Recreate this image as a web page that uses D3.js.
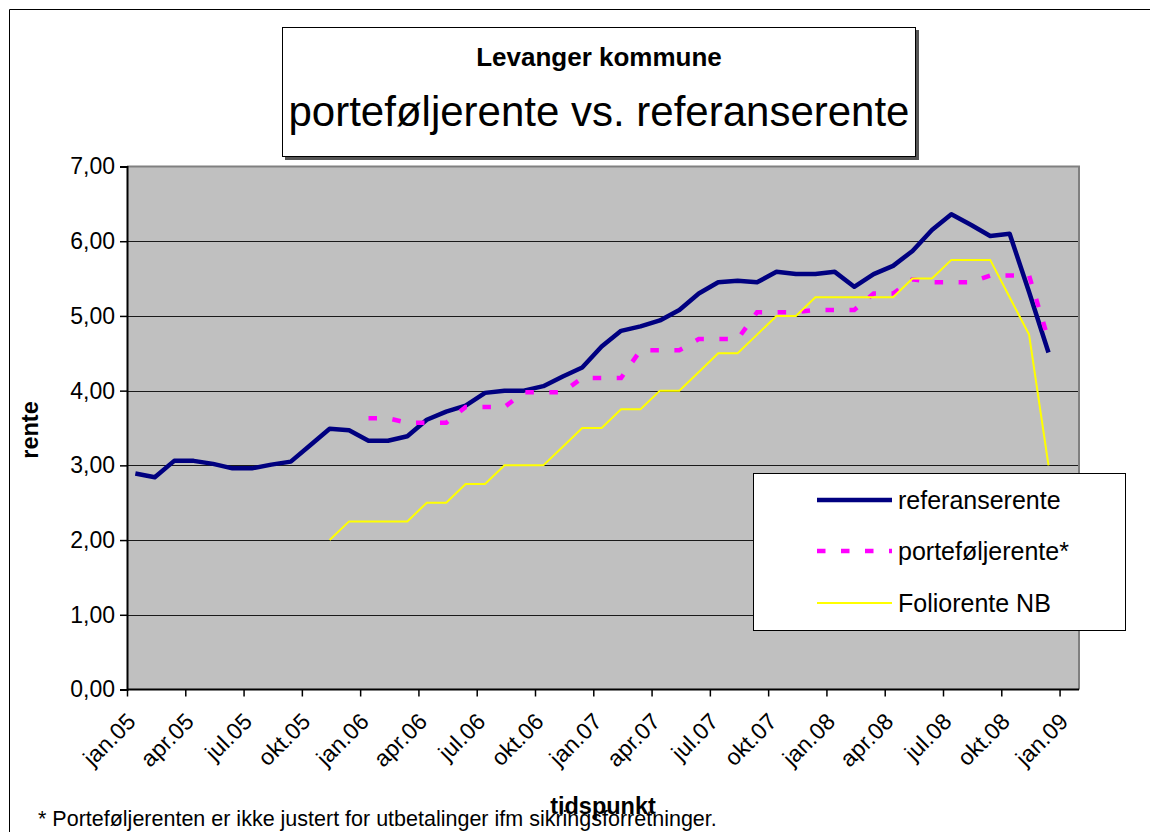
<!DOCTYPE html>
<html><head><meta charset="utf-8">
<script src="https://cdn.jsdelivr.net/npm/d3@7/dist/d3.min.js"></script>
<style>
body{margin:0;background:#fff}
svg{display:block}
text{font-family:"Liberation Sans",Arial,sans-serif;fill:#000}
</style>
</head><body>
<svg id="chart" width="1157" height="832"></svg>
<script>
const months = ["jan.05","feb.05","mar.05","apr.05","mai.05","jun.05","jul.05","aug.05","sep.05","okt.05","nov.05","des.05",
"jan.06","feb.06","mar.06","apr.06","mai.06","jun.06","jul.06","aug.06","sep.06","okt.06","nov.06","des.06",
"jan.07","feb.07","mar.07","apr.07","mai.07","jun.07","jul.07","aug.07","sep.07","okt.07","nov.07","des.07",
"jan.08","feb.08","mar.08","apr.08","mai.08","jun.08","jul.08","aug.08","sep.08","okt.08","nov.08","des.08"];
const tickLabels = ["jan.05","apr.05","jul.05","okt.05","jan.06","apr.06","jul.06","okt.06","jan.07","apr.07","jul.07","okt.07","jan.08","apr.08","jul.08","okt.08","jan.09"];
const yTicks = [0,1,2,3,4,5,6,7];
const referanserente = [2.89,2.84,3.06,3.06,3.02,2.96,2.96,3.01,3.05,3.27,3.49,3.47,
3.33,3.33,3.39,3.61,3.72,3.80,3.97,4.00,4.00,4.06,4.19,4.31,
4.59,4.80,4.86,4.94,5.08,5.30,5.45,5.47,5.45,5.59,5.56,5.56,
5.59,5.39,5.56,5.67,5.87,6.15,6.36,6.22,6.07,6.10,5.32,4.51];
const portefoljerente = [null,null,null,null,null,null,null,null,null,null,null,null,
3.63,3.63,3.57,3.57,3.57,3.78,3.78,3.78,3.98,3.98,3.98,4.17,
4.17,4.17,4.54,4.54,4.54,4.69,4.69,4.69,5.05,5.05,5.05,5.08,
5.08,5.08,5.30,5.30,5.49,5.45,5.45,5.45,5.54,5.54,5.54,4.68];
const foliorente = [null,null,null,null,null,null,null,null,null,null,2.00,2.25,
2.25,2.25,2.25,2.50,2.50,2.75,2.75,3.00,3.00,3.00,3.25,3.50,
3.50,3.75,3.75,4.00,4.00,4.25,4.50,4.50,4.75,5.00,5.00,5.25,
5.25,5.25,5.25,5.25,5.50,5.50,5.75,5.75,5.75,5.25,4.75,3.00];
const seriesNames = ["referanserente","porteføljerente*","Foliorente NB"];

const svg = d3.select("#chart");
const L = 127, R = 1079, T = 166.5, B = 689.5;
const x = d3.scaleLinear().domain([0, 49]).range([L, R]);
const y = d3.scaleLinear().domain([0, 7]).range([B, T]);
const off = 0.43;

// outer frame
svg.append("path").attr("d", "M9.5,832 V9.5 H1150").attr("fill","none").attr("stroke","#000").attr("stroke-width",1);

// title box
svg.append("rect").attr("x",285).attr("y",30).attr("width",634).attr("height",130).attr("fill","#555");
svg.append("rect").attr("x",282.5).attr("y",27.5).attr("width",633).attr("height",129).attr("fill","#fff").attr("stroke","#000").attr("stroke-width",1);
svg.append("text").attr("x",599).attr("y",66).attr("text-anchor","middle").attr("font-size",26).attr("font-weight","bold").text("Levanger kommune");
svg.append("text").attr("x",599).attr("y",126).attr("text-anchor","middle").attr("font-size",42).text("porteføljerente vs. referanserente");

// plot area
svg.append("rect").attr("x",L).attr("y",T).attr("width",R-L).attr("height",B-T).attr("fill","#C0C0C0");
// gridlines
svg.append("g").selectAll("line").data(yTicks.filter(v => v>0 && v<7)).join("line")
  .attr("x1",L).attr("x2",R).attr("y1",d=>Math.round(y(d))+0.5).attr("y2",d=>Math.round(y(d))+0.5)
  .attr("stroke","#1a1a1a").attr("stroke-width",1.2);
// plot border top/right
svg.append("path").attr("d",`M${L},${T} H${R} V${B}`).attr("fill","none").attr("stroke","#808080").attr("stroke-width",2);

// series
const line = d3.line().defined(d => d.v != null).x(d => x(d.i + off)).y(d => y(d.v));
const toPts = arr => arr.map((v,i) => ({i, v}));
svg.append("path").datum(toPts(referanserente)).attr("d", line).attr("fill","none")
  .attr("stroke","#000080").attr("stroke-width",4.5).attr("stroke-linejoin","round");
svg.append("path").datum(toPts(portefoljerente)).attr("d", line).attr("fill","none")
  .attr("stroke","#FF00FF").attr("stroke-width",4.5).attr("stroke-dasharray","8.5,15.5");
svg.append("path").datum(toPts(foliorente)).attr("d", line).attr("fill","none")
  .attr("stroke","#FFFF00").attr("stroke-width",2);

// axes
const yAxis = svg.append("g").attr("transform",`translate(${L},0)`)
  .call(d3.axisLeft(y).tickValues(yTicks).tickSize(7).tickFormat(d => d3.format(".2f")(d).replace(".",",")));
yAxis.select(".domain").attr("stroke","#000").attr("stroke-width",2);
yAxis.selectAll(".tick line").attr("stroke","#000").attr("stroke-width",1.5);
yAxis.selectAll(".tick text").attr("font-size",23).attr("font-family","Liberation Sans, Arial, sans-serif").attr("x",-12).attr("fill","#000");

const xAxis = svg.append("g").attr("transform",`translate(0,${B})`)
  .call(d3.axisBottom(x).tickValues(tickLabels.map((_,k)=>3*k)).tickSize(7).tickFormat((d,k)=>tickLabels[k]));
xAxis.select(".domain").attr("stroke","#000").attr("stroke-width",2).attr("d",`M${L},0H${R}`);
xAxis.selectAll(".tick line").attr("stroke","#000").attr("stroke-width",1.5);
xAxis.selectAll(".tick text").attr("font-size",23).attr("font-family","Liberation Sans, Arial, sans-serif")
  .attr("fill","#000").attr("text-anchor","end").attr("y",0).attr("dy","0.71em")
  .attr("transform","translate(-2,22) rotate(-45)");

// axis titles
svg.append("text").attr("transform","translate(38,430) rotate(-90)").attr("text-anchor","middle")
  .attr("font-size",23.5).attr("font-weight","bold").text("rente");
svg.append("text").attr("x",603).attr("y",814).attr("text-anchor","middle")
  .attr("font-size",23.5).attr("font-weight","bold").text("tidspunkt");

// footnote
svg.append("text").attr("x",38).attr("y",826).attr("font-size",21.5)
  .text("* Porteføljerenten er ikke justert for utbetalinger ifm sikringsforretninger.");

// legend
const lg = svg.append("g");
lg.append("rect").attr("x",753.5).attr("y",473.5).attr("width",372).attr("height",157).attr("fill","#fff").attr("stroke","#000").attr("stroke-width",1);
const lgY = [500, 551, 603];
const styles = [
  {stroke:"#000080", w:4.5, dash:null},
  {stroke:"#FF00FF", w:4.5, dash:"8.5,15.5"},
  {stroke:"#FFFF00", w:2, dash:null}
];
seriesNames.forEach((n,k) => {
  lg.append("line").attr("x1",817).attr("x2",892).attr("y1",lgY[k]).attr("y2",lgY[k])
    .attr("stroke",styles[k].stroke).attr("stroke-width",styles[k].w).attr("stroke-dasharray",styles[k].dash);
  lg.append("text").attr("x",898).attr("y",lgY[k]+9).attr("font-size",25).text(n);
});
</script>
</body></html>
